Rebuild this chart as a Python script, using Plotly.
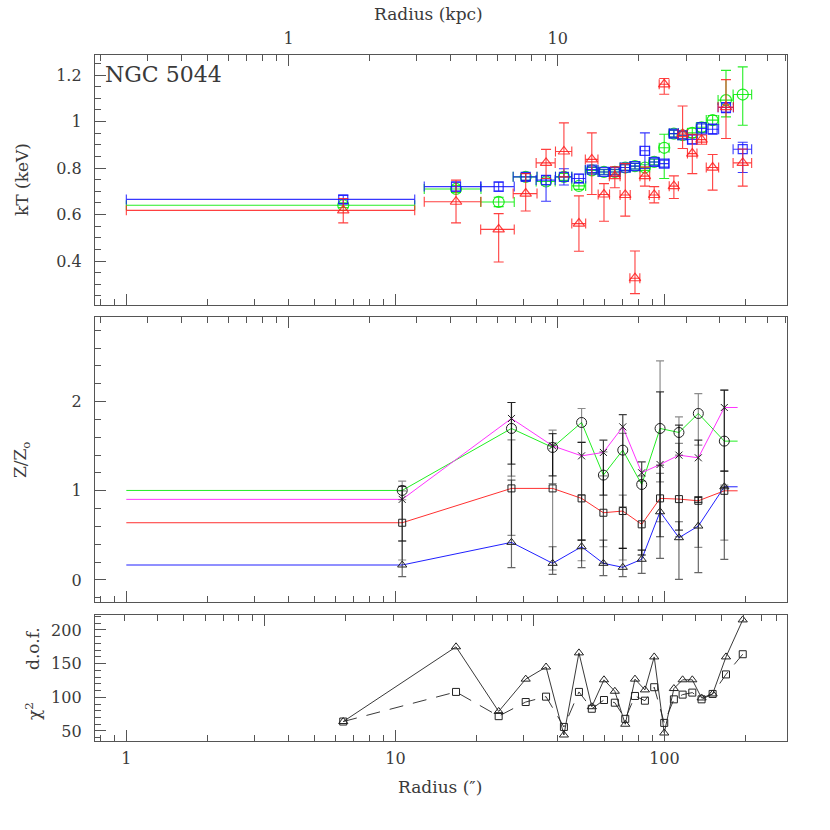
import plotly.graph_objects as go
import math

# ---------------- data ----------------
# annuli (arcsec) for temperature and chi^2 panels
radius_kt = [6.4, 16.8, 24.2, 30.5, 36.3, 42.3, 48.1, 53.7, 59.6, 65.4, 71.5,
             77.7, 84.6, 91.6, 99.8, 108.4, 116.8, 126.9, 137.4, 151.0, 169.3, 195.4]
radius_halfwidth = [5.4, 4.0, 3.45, 3.1, 2.95, 2.95, 2.85, 2.9, 2.9, 3.0, 3.1,
                    3.3, 3.5, 3.8, 4.2, 4.25, 4.6, 5.15, 6.0, 8.0, 11.1, 15.5]

kt_red = [0.618, 0.655, 0.536, 0.690, 0.822, 0.871, 0.561, 0.837, 0.686, 0.765, 0.684,
          0.326, 0.765, 0.684, 1.160, 0.722, 0.946, 0.862, 0.922, 0.802, 1.062, 0.822]
kt_red_up = [0.051, 0.093, 0.068, 0.086, 0.058, 0.123, 0.119, 0.114, 0.047, 0.040, 0.135,
             0.117, 0.040, 0.036, 0.025, 0.044, 0.121, 0.083, 0.020, 0.056, 0.118, 0.060]
kt_red_dn = [0.054, 0.091, 0.140, 0.075, 0.067, 0.109, 0.119, 0.151, 0.115, 0.050, 0.091,
             0.066, 0.043, 0.034, 0.043, 0.053, 0.062, 0.086, 0.020, 0.097, 0.135, 0.100]

kt_green = [0.640, 0.710, 0.654, 0.762, 0.742, 0.762, 0.723, 0.790, 0.783, 0.783, 0.802,
            0.808, 0.802, 0.826, 0.887, 0.948, 0.941, 0.951, 0.975, 1.006, 1.092, 1.116]
kt_green_up = [0.010, 0.015, 0.020, 0.015, 0.015, 0.015, 0.015, 0.012, 0.010, 0.010, 0.012,
               0.012, 0.012, 0.012, 0.058, 0.015, 0.015, 0.020, 0.020, 0.020, 0.128, 0.119]
kt_green_dn = [0.010, 0.015, 0.020, 0.015, 0.015, 0.015, 0.015, 0.012, 0.010, 0.010, 0.012,
               0.012, 0.012, 0.012, 0.132, 0.015, 0.015, 0.020, 0.020, 0.020, 0.072, 0.132]

kt_blue = [0.665, 0.720, 0.720, 0.762, 0.748, 0.762, 0.755, 0.793, 0.783, 0.783, 0.802,
           0.808, 0.874, 0.826, 0.819, 0.948, 0.941, 0.923, 0.970, 0.967, 1.060, 0.881]
kt_blue_up = [0.017, 0.020, 0.020, 0.015, 0.021, 0.035, 0.018, 0.012, 0.012, 0.012, 0.012,
              0.012, 0.077, 0.014, 0.015, 0.015, 0.015, 0.020, 0.025, 0.022, 0.022, 0.030]
kt_blue_dn = [0.018, 0.020, 0.020, 0.015, 0.091, 0.035, 0.018, 0.012, 0.012, 0.012, 0.012,
              0.012, 0.076, 0.014, 0.015, 0.015, 0.015, 0.020, 0.025, 0.022, 0.022, 0.100]

# metallicity profiles
radius_z = [10.6, 27.0, 38.4, 49.2, 59.3, 70.0, 82.3, 96.3, 113.2, 133.6, 166.9]
z_profile_start = 1.0
z_profile_end = 187.0

z_green = [1.004, 1.699, 1.486, 1.766, 1.176, 1.456, 1.071, 1.699, 1.654, 1.867, 1.557]
z_green_hi = [1.109, 1.990, 1.680, 1.923, 1.437, 1.643, 1.168, 2.456, 1.829, 2.090, 2.128]
z_green_lo = [0.900, 1.165, 1.080, 1.542, 0.373, 0.821, 0.336, 1.101, 1.400, 1.512, 1.064]

z_magenta = [0.904, 1.811, 1.504, 1.392, 1.430, 1.717, 1.202, 1.295, 1.400, 1.370, 1.934]
z_magenta_hi = [1.050, 1.990, 1.640, 1.542, 1.568, 1.855, 1.325, 2.109, 1.736, 1.568, 2.128]
z_magenta_lo = [0.437, 1.300, 1.168, 0.448, 0.952, 0.355, 0.280, 0.485, 0.560, 0.870, 1.221]

z_red = [0.642, 1.027, 1.027, 0.915, 0.754, 0.773, 0.624, 0.915, 0.907, 0.888, 1.000]
z_red_hi = [1.000, 1.570, 1.510, 0.952, 1.168, 0.952, 1.109, 1.195, 1.531, 0.933, 1.045]
z_red_lo = [0.224, 0.500, 0.112, 0.216, 0.187, 0.224, 0.280, 0.653, 0.485, 0.366, 0.448]

z_blue = [0.168, 0.422, 0.187, 0.373, 0.187, 0.142, 0.232, 0.765, 0.474, 0.605, 1.045]
z_blue_hi = [0.437, 1.120, 0.373, 0.448, 0.448, 0.355, 0.336, 1.288, 0.653, 0.933, 1.221]
z_blue_lo = [0.037, 0.138, 0.064, 0.138, 0.048, 0.037, 0.075, 0.243, 0.008, 0.082, 0.232]

# reduced chi^2 fits
chi_triangle = [64, 175, 79, 127, 145, 44, 166, 86, 126, 109, 60,
                127, 111, 160, 47, 113, 126, 126, 99, 105, 160, 215]
chi_square = [64, 108, 72, 93, 101, 56, 108, 83, 96, 92, 68,
              102, 95, 115, 62, 97, 104, 107, 97, 105, 134, 164]

# axis labels / scales
kpc_per_arcsec = 0.2494
kpc_per_arcsec_chi = 0.306
kt_ticks = [0.4, 0.6, 0.8, 1.0, 1.2]
kt_ticktext = ["0.4", "0.6", "0.8", "1", "1.2"]
z_ticks = [0, 1, 2]
chi_ticks = [50, 100, 150, 200]
r_ticks = [1, 10, 100]
kpc_ticks = [1, 10]

# ---------------- styling ----------------
FONT = "DejaVu Serif"
TXT = "#3a3a3a"
AX = "#555555"
RED = "rgba(255,30,30,0.85)"
GREEN = "rgba(0,235,0,0.85)"
BLUE = "rgba(20,20,255,0.85)"
MAG = "#ff33ff"

fig = go.Figure()

def kt_trace(vals, up, dn, color, symbol, size):
    return go.Scatter(
        x=radius_kt, y=vals, mode="markers", xaxis="x", yaxis="y",
        marker=dict(symbol=symbol, size=size, color=color, line=dict(width=1.2)),
        error_y=dict(type="data", symmetric=False, array=up, arrayminus=dn,
                     color=color, thickness=1.1, width=5),
        error_x=dict(type="data", array=radius_halfwidth, color=color,
                     thickness=1.1, width=5),
        showlegend=False, hoverinfo="skip")

fig.add_trace(kt_trace(kt_green, kt_green_up, kt_green_dn, GREEN, "circle-open", 11))
fig.add_trace(kt_trace(kt_blue, kt_blue_up, kt_blue_dn, BLUE, "square-open", 9))
fig.add_trace(kt_trace(kt_red, kt_red_up, kt_red_dn, RED, "triangle-up-open", 10))

# metallicity: coloured lines then black markers with error bars
for vals, col in [(z_green, "#22ee22"), (z_magenta, MAG), (z_red, "#ff3030"), (z_blue, "#2020ff")]:
    fig.add_trace(go.Scatter(
        x=[z_profile_start] + radius_z + [z_profile_end],
        y=[vals[0]] + vals + [vals[-1]],
        mode="lines", xaxis="x2", yaxis="y2",
        line=dict(color=col, width=1), showlegend=False, hoverinfo="skip"))

for vals, hi, lo, sym, sz, ecol in [
        (z_green, z_green_hi, z_green_lo, "circle-open", 10, "rgba(0,0,0,0.45)"),
        (z_magenta, z_magenta_hi, z_magenta_lo, "x-thin-open", 7, "rgba(0,0,0,0.75)"),
        (z_red, z_red_hi, z_red_lo, "square-open", 7, "rgba(0,0,0,0.45)"),
        (z_blue, z_blue_hi, z_blue_lo, "triangle-up-open", 8, "rgba(0,0,0,0.6)")]:
    fig.add_trace(go.Scatter(
        x=radius_z, y=vals, mode="markers", xaxis="x2", yaxis="y2",
        marker=dict(symbol=sym, size=sz, color="#222222", line=dict(width=1)),
        error_y=dict(type="data", symmetric=False,
                     array=[h - v for h, v in zip(hi, vals)],
                     arrayminus=[v - l for v, l in zip(vals, lo)],
                     color=ecol, thickness=1.2, width=4),
        showlegend=False, hoverinfo="skip"))

# chi^2
fig.add_trace(go.Scatter(
    x=radius_kt, y=chi_square, mode="lines+markers", xaxis="x3", yaxis="y3",
    line=dict(color="#222222", width=0.9, dash="14px,10px"),
    marker=dict(symbol="square-open", size=7, color="#222222", line=dict(width=1)),
    showlegend=False, hoverinfo="skip"))
fig.add_trace(go.Scatter(
    x=radius_kt, y=chi_triangle, mode="lines+markers", xaxis="x3", yaxis="y3",
    line=dict(color="#222222", width=0.9),
    marker=dict(symbol="triangle-up-open", size=8, color="#222222", line=dict(width=1)),
    showlegend=False, hoverinfo="skip"))

# empty traces to activate the top (kpc) axes
for xa, ya in [("x4", "y"), ("x5", "y2"), ("x6", "y3")]:
    fig.add_trace(go.Scatter(x=[], y=[], xaxis=xa, yaxis=ya, showlegend=False))

# ---------------- axes ----------------
lo_r, hi_r = -0.1164, 2.4554
arcsec_minor = [v * m for m in (0.1, 1, 10, 100) for v in range(2, 10)
                if lo_r <= math.log10(v * m) <= hi_r]
arcsec_minor = sorted(set(round(v, 3) for v in arcsec_minor))

def kpc_range(scale):
    return [lo_r + math.log10(scale), hi_r + math.log10(scale)]

def kpc_minor(scale):
    a, b = kpc_range(scale)
    return [round(v * m, 3) for m in (0.1, 1, 10) for v in range(2, 10)
            if a <= math.log10(v * m) <= b]

tickfont = dict(family=FONT, size=16, color=TXT)

def xaxis_common(rng, labels, ticks, ticktext, minor_vals, side="bottom"):
    return dict(type="log", range=rng, domain=[0, 1], side=side,
                showgrid=False, zeroline=False, showline=True, linecolor=AX, linewidth=1.3,
                ticks="inside", ticklen=11, tickwidth=1.1, tickcolor=AX,
                tickmode="array", tickvals=ticks, ticktext=ticktext,
                showticklabels=labels, tickfont=tickfont, ticklabelstandoff=3,
                minor=dict(ticks="inside", ticklen=6, tickwidth=1, tickcolor=AX,
                           tickmode="array", tickvals=minor_vals, showgrid=False))

def yaxis_common(rng, dom, tv, tt, minor_vals):
    return dict(range=rng, domain=dom, showgrid=False, zeroline=False,
                showline=True, mirror=True, linecolor=AX, linewidth=1.3,
                ticks="inside", ticklen=11, tickwidth=1.1, tickcolor=AX,
                tickmode="array", tickvals=tv, ticktext=tt, tickfont=tickfont,
                ticklabelstandoff=9,
                minor=dict(ticks="inside", ticklen=6, tickwidth=1, tickcolor=AX,
                           tickmode="array", tickvals=minor_vals, showgrid=False))

r_text = [str(v) for v in r_ticks]
k_text = [str(v) for v in kpc_ticks]

layout = dict(
    width=830, height=830, plot_bgcolor="white", paper_bgcolor="white",
    margin=dict(l=95, r=43, t=55, b=89),
    xaxis=dict(xaxis_common([lo_r, hi_r], False, r_ticks, r_text, arcsec_minor), anchor="y"),
    xaxis2=dict(xaxis_common([lo_r, hi_r], False, r_ticks, r_text, arcsec_minor), anchor="y2"),
    xaxis3=dict(xaxis_common([lo_r, hi_r], True, r_ticks, r_text, arcsec_minor), anchor="y3"),
    xaxis4=dict(xaxis_common(kpc_range(kpc_per_arcsec), True, kpc_ticks, k_text,
                             kpc_minor(kpc_per_arcsec), side="top"), anchor="y", overlaying="x"),
    xaxis5=dict(xaxis_common(kpc_range(kpc_per_arcsec), False, kpc_ticks, k_text,
                             kpc_minor(kpc_per_arcsec), side="top"), anchor="y2", overlaying="x2"),
    xaxis6=dict(xaxis_common(kpc_range(kpc_per_arcsec_chi), False, kpc_ticks, k_text,
                             kpc_minor(kpc_per_arcsec_chi), side="top"), anchor="y3", overlaying="x3"),
    yaxis=yaxis_common([0.211, 1.286], [0.6356, 1.0], kt_ticks, kt_ticktext,
                       [round(0.25 + 0.05 * i, 2) for i in range(21)]),
    yaxis2=yaxis_common([-0.25, 2.945], [0.2022, 0.6176], z_ticks, [str(v) for v in z_ticks],
                        [round(-0.2 + 0.2 * i, 1) for i in range(16)]),
    yaxis3=yaxis_common([35.1, 222.3], [0, 0.1837], chi_ticks, [str(v) for v in chi_ticks],
                        [40 + 10 * i for i in range(19)]),
)
for k in ("yaxis", "yaxis2", "yaxis3"):
    layout[k]["anchor"] = {"yaxis": "x", "yaxis2": "x2", "yaxis3": "x3"}[k]
fig.update_layout(**layout)

def px2paper(px, py):
    return (px - 95.0) / 692.0, (741.0 - py) / 686.0

ann_font = dict(family=FONT, size=17, color=TXT)
notes = [
    ("NGC 5044", 103, 75, 0, "left", dict(family=FONT, size=22, color=TXT)),
    ("Radius (kpc)", 428, 14, 0, "center", ann_font),
    ("Radius (″)", 440, 787, 0, "center", ann_font),
    ("kT (keV)", 22, 180, -90, "center", ann_font),
    ("Z/Z<sub>o</sub>", 22, 460, -90, "center", ann_font),
    ("d.o.f.", 33, 649, -90, "center", ann_font),
    ("χ<sup>2</sup>", 33, 711, -90, "center", ann_font),
]
for text, px, py, ang, xan, f in notes:
    xp, yp = px2paper(px, py)
    fig.add_annotation(text=text, x=xp, y=yp, xref="paper", yref="paper",
                       xanchor=xan, yanchor="middle", showarrow=False,
                       textangle=ang, font=f)

fig.write_html("out.html", config={"displayModeBar": False},
               post_script="document.body.style.margin='0px';")
